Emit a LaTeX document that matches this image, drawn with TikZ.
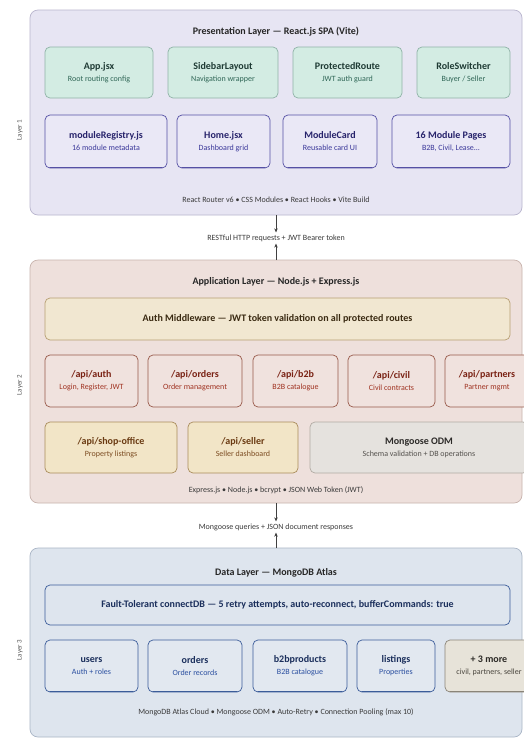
\documentclass[tikz,border=0pt]{standalone}
\usepackage{fontspec}
\setmainfont{Carlito}
\usetikzlibrary{arrows.meta}
\definecolor{lAf}{HTML}{E7E5F3}\definecolor{lAd}{HTML}{B9B5CE}
\definecolor{lBf}{HTML}{EEE0DC}\definecolor{lBd}{HTML}{C8B3AD}
\definecolor{lCf}{HTML}{DEE5EE}\definecolor{lCd}{HTML}{A9B5C6}
\definecolor{mintF}{HTML}{D3ECE3}\definecolor{mintD}{HTML}{8FB3A7}\definecolor{mintT}{HTML}{1F3B35}\definecolor{mintS}{HTML}{2F6656}
\definecolor{purF}{HTML}{EAE8F6}\definecolor{purD}{HTML}{5550A4}\definecolor{purT}{HTML}{27236B}\definecolor{purS}{HTML}{3B389A}
\definecolor{audF}{HTML}{F1E7D1}\definecolor{audD}{HTML}{B79F72}\definecolor{audT}{HTML}{3A2A12}
\definecolor{apiF}{HTML}{F0E2DE}\definecolor{apiD}{HTML}{98594A}\definecolor{apiT}{HTML}{7A2214}\definecolor{apiS}{HTML}{A03322}
\definecolor{begF}{HTML}{F2E5C7}\definecolor{begD}{HTML}{A98B5B}\definecolor{begT}{HTML}{6A3A12}\definecolor{begS}{HTML}{7C4C22}
\definecolor{gryF}{HTML}{E5E2DE}\definecolor{gryD}{HTML}{B1ABA3}\definecolor{gryT}{HTML}{2C2A28}\definecolor{gryS}{HTML}{55524E}
\definecolor{bluF}{HTML}{E2E8F0}\definecolor{bluD}{HTML}{3B5C99}\definecolor{bluT}{HTML}{1B2F5C}\definecolor{bluS}{HTML}{2B4FA0}
\definecolor{morF}{HTML}{E7E3D9}\definecolor{morD}{HTML}{8A8478}\definecolor{morT}{HTML}{2C2A26}\definecolor{morS}{HTML}{4A463E}
\definecolor{txtG}{HTML}{3A3A3A}
\newcommand\bx[2]{{\bfseries\fontsize{10}{11.5}\selectfont #1}\\{\fontsize{8}{9.5}\selectfont\color{subc}#2}}
\begin{document}
\begin{tikzpicture}[x=1pt,y=-1pt,
  layer/.style={draw, line width=0.7pt, rounded corners=8pt, outer sep=0pt, inner sep=0pt},
  box/.style={draw, line width=0.7pt, rounded corners=5pt, align=center, inner sep=1pt, outer sep=0pt},
  mint/.style={box, fill=mintF, draw=mintD, text=mintT, execute at begin node={\colorlet{subc}{mintS}}},
  pur/.style={box, fill=purF, draw=purD, text=purT, execute at begin node={\colorlet{subc}{purS}}},
  api/.style={box, fill=apiF, draw=apiD, text=apiT, execute at begin node={\colorlet{subc}{apiS}}},
  beg/.style={box, fill=begF, draw=begD, text=begT, execute at begin node={\colorlet{subc}{begS}}},
  gry/.style={box, fill=gryF, draw=gryD, text=gryT, execute at begin node={\colorlet{subc}{gryS}}},
  blu/.style={box, fill=bluF, draw=bluD, text=bluT, execute at begin node={\colorlet{subc}{bluS}}},
  mor/.style={box, fill=morF, draw=morD, text=morT, execute at begin node={\colorlet{subc}{morS}}},
  wide/.style={box, font=\bfseries\fontsize{10}{12}\selectfont},
  ttl/.style={font=\bfseries\fontsize{10}{12}\selectfont, text=black!85, inner sep=1pt},
  foot/.style={font=\fontsize{8}{10}\selectfont, text=txtG, inner sep=1pt},
  flow/.style={font=\fontsize{8}{10}\selectfont, text=txtG, inner sep=2pt},
  laylab/.style={rotate=90, font=\fontsize{7}{8}\selectfont, text=black!65, inner sep=1pt},
  arr/.style={-{Stealth[length=4pt,width=3.5pt]}, line width=0.6pt, draw=black!75},
  shade/.style={line width=1.3pt, line cap=round}
]
\useasboundingbox (0,0) rectangle (524,740);
\clip (0,0) rectangle (524,740);
\fill[white] (0,0) rectangle (524,740);

% ---------------- Layer 1 ----------------
\node[layer, fill=lAf, draw=lAd, minimum width=492pt, minimum height=205pt] (L1) at (276,112.5) {};
\node[laylab] (L1l) at (20,130) {Layer 1};
\node[ttl] (L1t) at (276,32) {Presentation Layer — React.js SPA (Vite)};
\node[mint, minimum width=108pt, minimum height=51pt] (app) at (99,72.5) {\bx{App.jsx}{Root routing config}};
\node[mint, minimum width=110pt, minimum height=51pt] (side) at (223,72.5) {\bx{SidebarLayout}{Navigation wrapper}};
\node[mint, minimum width=109pt, minimum height=51pt] (prot) at (347.5,72.5) {\bx{ProtectedRoute}{JWT auth guard}};
\node[mint, minimum width=93pt, minimum height=51pt] (role) at (463.5,72.5) {\bx{RoleSwitcher}{Buyer / Seller}};
\node[pur, minimum width=122pt, minimum height=53pt] (reg) at (106,141.5) {\bx{moduleRegistry.js}{16 module metadata}};
\node[pur, minimum width=93pt, minimum height=53pt] (home) at (223.5,141.5) {\bx{Home.jsx}{Dashboard grid}};
\node[pur, minimum width=94pt, minimum height=53pt] (card) at (330,141.5) {\bx{ModuleCard}{Reusable card UI}};
\node[pur, minimum width=118pt, minimum height=53pt] (pages) at (451,141.5) {\bx{16 Module Pages}{B2B, Civil, Lease...}};
\foreach \n in {reg,home,card,pages}
  \draw[shade, purD] ([xshift=5pt,yshift=0.4pt]\n.south west) -- ([xshift=-5pt,yshift=0.4pt]\n.south east);
\node[foot] (L1f) at (276,200) {React Router v6 • CSS Modules • React Hooks • Vite Build};

% ---------------- connector 1 ----------------
\node[flow] (c1) at (276,238) {RESTful HTTP requests + JWT Bearer token};

% ---------------- Layer 2 ----------------
\node[layer, fill=lBf, draw=lBd, minimum width=492pt, minimum height=243pt] (L2) at (276,381.5) {};
\node[laylab] (L2l) at (20,385) {Layer 2};
\node[ttl] (L2t) at (276,282) {Application Layer — Node.js + Express.js};
\node[wide, fill=audF, draw=audD, text=audT, minimum width=465pt, minimum height=42pt] (auth) at (277.5,319) {Auth Middleware — JWT token validation on all protected routes};
\node[api, minimum width=93pt, minimum height=52pt] (aauth) at (91.5,381) {\bx{/api/auth}{Login, Register, JWT}};
\node[api, minimum width=94pt, minimum height=52pt] (aord) at (195,381) {\bx{/api/orders}{Order management}};
\node[api, minimum width=85pt, minimum height=52pt] (ab2b) at (295.5,381) {\bx{/api/b2b}{B2B catalogue}};
\node[api, minimum width=87pt, minimum height=52pt] (aciv) at (391.5,381) {\bx{/api/civil}{Civil contracts}};
\node[api, minimum width=84pt, minimum height=52pt] (apart) at (487,381) {\bx{/api/partners}{Partner mgmt}};
\node[beg, minimum width=132pt, minimum height=51pt] (shop) at (111,447.5) {\bx{/api/shop-office}{Property listings}};
\node[beg, minimum width=110pt, minimum height=51pt] (sell) at (243,447.5) {\bx{/api/seller}{Seller dashboard}};
\node[gry, minimum width=218pt, minimum height=51pt] (mong) at (419,447.5) {\bx{Mongoose ODM}{Schema validation + DB operations}};
\node[foot] (L2f) at (276,490) {Express.js • Node.js • bcrypt • JSON Web Token (JWT)};

% ---------------- connector 2 ----------------
\node[flow] (c2) at (276,527) {Mongoose queries + JSON document responses};

% ---------------- Layer 3 ----------------
\node[layer, fill=lCf, draw=lCd, minimum width=492pt, minimum height=189pt] (L3) at (276,642.5) {};
\node[laylab] (L3l) at (20,650) {Layer 3};
\node[ttl] (L3t) at (276,573) {Data Layer — MongoDB Atlas};
\node[wide, fill=lCf, draw=bluD, text=bluT, minimum width=465pt, minimum height=40pt] (fault) at (277.5,605) {Fault-Tolerant connectDB — 5 retry attempts, auto-reconnect, bufferCommands: true};
\node[blu, minimum width=93pt, minimum height=52pt] (users) at (91.5,666) {\bx{users}{Auth + roles}};
\node[blu, minimum width=94pt, minimum height=52pt] (ords) at (195,666) {\bx{orders}{Order records}};
\node[blu, minimum width=94pt, minimum height=52pt] (b2bp) at (300,666) {\bx{b2bproducts}{B2B catalogue}};
\node[blu, minimum width=78pt, minimum height=52pt] (list) at (396,666) {\bx{listings}{Properties}};
\node[mor, minimum width=88pt, minimum height=52pt] (more) at (489,666) {\bx{+ 3 more}{civil, partners, seller}};
\foreach \n in {users,ords,b2bp,list}
  \draw[shade, bluD] ([xshift=5pt,yshift=0.4pt]\n.south west) -- ([xshift=-5pt,yshift=0.4pt]\n.south east);
\draw[shade, morD] ([xshift=5pt,yshift=0.4pt]more.south west) -- ([xshift=-5pt,yshift=0.4pt]more.south east);
\node[foot] (L3f) at (276,712) {MongoDB Atlas Cloud • Mongoose ODM • Auto-Retry • Connection Pooling (max 10)};

% ---------------- arrows ----------------
\draw[arr] (L1) -- (c1);
\draw[arr] (L2) -- (c1);
\draw[arr] (L2) -- (c2);
\draw[arr] (L3) -- (c2);
\end{tikzpicture}
\end{document}
